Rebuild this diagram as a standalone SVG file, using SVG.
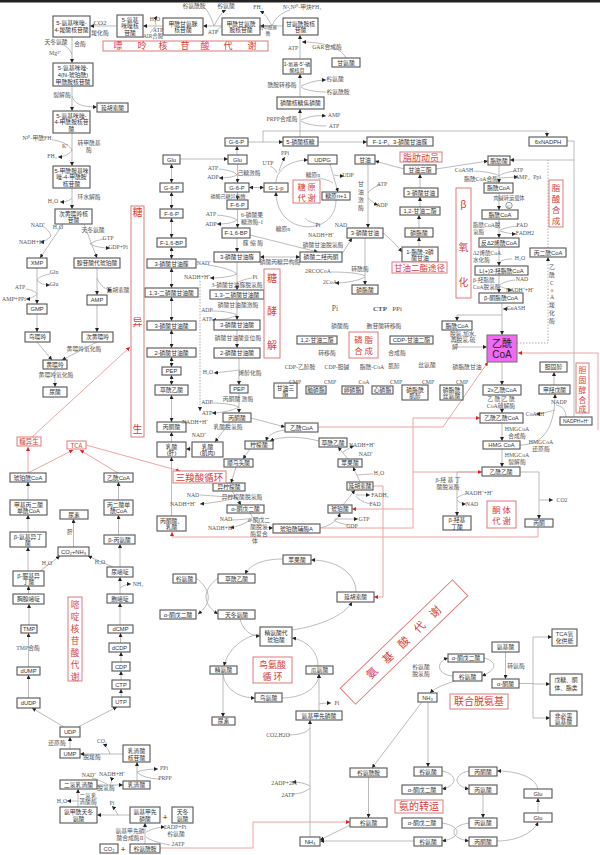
<svg xmlns="http://www.w3.org/2000/svg" width="600" height="855" viewBox="0 0 600 855">
<style>
.b{fill:#fff;stroke:#555;stroke-width:1.1}
.t{font-family:"Liberation Sans","Noto Sans CJK SC",sans-serif;font-size:5.8px;fill:#333;text-anchor:middle}
.l{font-family:"Liberation Serif","Noto Sans CJK SC",serif;font-size:5.8px;fill:#555;text-anchor:middle}
.ls{font-family:"Liberation Serif","Noto Sans CJK SC",serif;font-size:5.6px;fill:#555;text-anchor:start}
.r{fill:#fff;stroke:#e07a7a;stroke-width:1}
.rt{font-family:"Noto Sans CJK SC",sans-serif;font-size:10px;fill:#d83c3c;text-anchor:middle}
.c{fill:none;stroke:#aaa;stroke-width:0.8;marker-end:url(#a)}
.cb{fill:none;stroke:#aaa;stroke-width:0.8;marker-end:url(#a);marker-start:url(#as)}
.n{fill:none;stroke:#aaa;stroke-width:0.8}
.d{fill:none;stroke:#999;stroke-width:0.8;stroke-dasharray:1.5,1.5;marker-end:url(#a)}
.dn{fill:none;stroke:#999;stroke-width:0.8;stroke-dasharray:1.5,1.5}
.rc{fill:none;stroke:#ec9a9a;stroke-width:0.9;marker-end:url(#ra)}
</style>
<defs>
<marker id="a" viewBox="0 0 6 6" refX="6" refY="3" markerWidth="4" markerHeight="4" markerUnits="userSpaceOnUse" orient="auto"><path d="M0,0L6,3L0,6z" fill="#222"/></marker>
<marker id="as" viewBox="0 0 6 6" refX="0" refY="3" markerWidth="4" markerHeight="4" markerUnits="userSpaceOnUse" orient="auto"><path d="M6,0L0,3L6,6z" fill="#222"/></marker>
<marker id="ra" viewBox="0 0 6 6" refX="6" refY="3" markerWidth="4" markerHeight="4" markerUnits="userSpaceOnUse" orient="auto"><path d="M0,0L6,3L0,6z" fill="#e02020"/></marker>
</defs>
<rect width="600" height="855" fill="#fff"/>
<rect width="600" height="2.5" fill="#222"/>

<g id="connectors">
<path class="c" d="M117,26H90"/><path class="c" d="M163,26H143"/><path class="c" d="M222,26H203"/><path class="c" d="M283,26H260"/>
<path class="n" d="M150,33C152,30 154,28 156,26"/><path class="c" d="M156,25C155,22 155,19 157,16"/>
<path class="n" d="M215,33C217,30 219,28 221,27"/><path class="n" d="M205,8C210,14 212,20 214,26"/><path class="c" d="M214,26C218,18 222,12 226,10"/>
<path class="n" d="M290,10C280,13 274,20 272,26"/><path class="c" d="M272,26C268,18 264,13 260,11"/>
<path class="c" d="M300,59V35"/><path class="c" d="M346,58C340,46 320,42 302,42"/>
<path class="c" d="M300,97V74"/><path class="n" d="M326,92C315,92 305,90 301,87"/><path class="c" d="M301,86C310,82 318,80 326,80"/>
<path class="c" d="M300,137V109"/><path class="n" d="M326,126C315,126 305,124 301,121"/><path class="c" d="M301,120C310,116 318,115 326,116"/>
<path class="c" d="M248,142H283"/><path class="c" d="M318,142H367"/><path class="c" d="M263,142V131H547V137"/>
<path class="c" d="M237,155V146"/><path class="c" d="M180,159H228"/>
<path class="c" d="M72,37V63"/><path class="c" d="M72,86V111"/><path class="c" d="M72,133V166"/><path class="c" d="M72,188V209"/>
<path class="n" d="M62,44C68,47 71,51 72,55"/><path class="c" d="M72,96C74,104 82,107 97,107"/>
<path class="n" d="M54,140C64,142 70,146 72,150"/><path class="c" d="M72,150C70,154 64,157 58,157"/>
<path class="c" d="M72,198C70,201 64,202 60,202"/>
<path class="c" d="M63,224L40,258"/><path class="c" d="M84,224L97,258"/>
<path class="n" d="M42,226C48,229 50,233 51,236"/><path class="c" d="M51,236C48,240 43,242 40,242"/>
<path class="n" d="M104,239C98,240 92,242 90,244"/><path class="c" d="M90,244C95,247 103,248 110,248"/>
<path class="c" d="M37,268V304"/><path class="n" d="M50,274C43,275 38,278 37,280"/><path class="c" d="M37,280C40,284 45,285 50,285"/>
<path class="n" d="M26,289C32,290 36,292 37,294"/><path class="c" d="M37,294C34,297 30,299 26,299"/>
<path class="c" d="M97,268V295"/><path class="c" d="M97,278C100,286 106,290 112,290"/>
<path class="c" d="M37,314V332"/><path class="c" d="M97,305V332"/><path class="c" d="M37,342L52,360"/><path class="c" d="M97,342L62,360"/><path class="c" d="M55,369V387"/>
<path class="cb" d="M171.5,183V164"/><path class="cb" d="M171.5,209V192"/><path class="cb" d="M171.5,238V218"/><path class="cb" d="M171.5,259V247"/><path class="cb" d="M171.5,288V268"/><path class="cb" d="M171.5,321V297"/><path class="cb" d="M171.5,348V330"/><path class="cb" d="M171.5,367V357"/><path class="cb" d="M171.5,385V375"/><path class="cb" d="M171.5,422V395"/>
<path class="c" d="M171.5,442V432"/><path class="c" d="M171.5,516V457"/><path class="c" d="M192,449H186"/>
<path class="c" d="M237.5,164V183"/><path class="n" d="M219,169C229,170 235,172 237,175"/><path class="c" d="M237,175C233,177 226,178 219,178"/>
<path class="cb" d="M249,187.5H264"/><path class="c" d="M237.5,192V200"/><path class="c" d="M237.5,209V228"/>
<path class="n" d="M217,215C228,216 235,218 237,220"/><path class="c" d="M237,220C233,223 226,224 217,224"/>
<path class="c" d="M237,238V252"/><path class="c" d="M250,235L318,252"/><path class="cb" d="M260,257H300"/><path class="c" d="M342,254L352,238"/>
<path class="c" d="M368,164V228"/><path class="n" d="M380,185C374,187 370,190 368,193"/><path class="c" d="M368,198C371,201 375,204 378,205"/>
<path class="c" d="M365,238V285"/><path class="n" d="M331,272C345,272 360,273 365,276"/><path class="c" d="M365,277C358,281 345,283 335,283"/>
<path class="c" d="M383,233C392,240 397,246 402,252"/>
<path class="c" d="M237,262V290"/><path class="n" d="M208,265C222,267 232,270 237,274"/><path class="c" d="M237,274C230,277 220,278 210,278"/><path class="n" d="M252,278C245,279 240,281 237,283"/>
<path class="c" d="M237,299V320"/><path class="n" d="M212,311C225,311 233,313 237,315"/><path class="c" d="M237,315C232,318 222,320 212,320"/>
<path class="c" d="M237,330V348"/><path class="c" d="M239,358V385"/><path class="c" d="M239,370C232,371 222,372 214,373"/>
<path class="c" d="M239,393V413"/><path class="n" d="M212,403C225,403 235,405 239,407"/><path class="c" d="M239,407C234,410 222,413 212,413"/>
<path class="c" d="M230,422L215,442"/><path class="c" d="M251,418L285,427"/><path class="d" d="M200,281V411"/>
<path class="c" d="M276,183C276,170 290,160 308,160"/><path class="n" d="M270,166C274,168 276,170 277,173"/><path class="c" d="M279,171C281,165 283,160 285,157"/>
<path class="c" d="M330,164L338,192"/><path class="n" d="M318,178C325,179 330,181 333,183"/><path class="c" d="M334,175C338,176 341,176 344,176"/>
<path class="c" d="M336,200C336,237 276,237 276,192"/><path class="n" d="M318,224C310,222 306,220 305,218"/>
<path class="c" d="M404,169L375,161"/><path class="c" d="M436,169L488,161"/><path class="c" d="M420,188V174"/><path class="c" d="M420,207V197"/><path class="c" d="M419,228V215"/><path class="c" d="M419,247V237"/>
<path class="c" d="M499,165V183"/><path class="n" d="M474,171C490,172 497,174 499,176"/><path class="n" d="M515,171C507,172 501,174 499,176"/><path class="c" d="M499,178C506,178 512,177 518,177"/>
<path class="c" d="M499,193V210"/><path class="c" d="M499,219V238"/><path class="n" d="M518,226C508,227 502,229 500,230"/><path class="c" d="M500,231C506,233 512,234 516,234"/>
<path class="c" d="M499,247V266"/><path class="n" d="M512,259C506,259 502,260 500,262"/>
<path class="c" d="M499,275V293"/><path class="n" d="M515,280C507,281 502,283 500,285"/><path class="c" d="M500,286C505,289 510,290 512,290"/>
<path class="c" d="M502,303V335"/><path class="c" d="M513,309H503"/><path class="c" d="M502,315H457V321"/><path class="c" d="M457,330V347H487"/>
<path class="d" d="M517,343H548V257"/><path class="dn" d="M548,248V160"/><path class="n" d="M567,141H574V417"/><path class="c" d="M574,160H510"/>
<path class="c" d="M502,362V385"/><path class="c" d="M502,395V413"/><path class="c" d="M502,423V441"/><path class="c" d="M502,449V467"/>
<path class="c" d="M520,445C545,445 555,425 555,394"/><path class="n" d="M566,417C566,410 562,406 556,405"/><path class="c" d="M555,410C548,412 540,414 536,414"/>
<path class="c" d="M554,385V372"/><path class="c" d="M482,472H457V516"/><path class="n" d="M468,493C464,494 459,496 457,498"/><path class="c" d="M457,500C460,503 463,504 466,504"/>
<path class="c" d="M520,472H539V519"/><path class="c" d="M539,500H553"/>
<path class="c" d="M285,430C275,431 268,435 266,441"/><path class="c" d="M319,441C300,436 280,436 270,441"/>
<path class="c" d="M250,449L243,459"/><path class="c" d="M236,467L231,483"/><path class="c" d="M232,491L241,505"/>
<path class="n" d="M200,495C215,496 226,497 235,497"/><path class="c" d="M235,498C225,501 212,503 200,504"/>
<path class="c" d="M250,513C255,522 263,528 273,528"/><path class="n" d="M231,520C238,520 248,519 252,518"/><path class="c" d="M252,519C245,524 235,527 230,528"/>
<path class="c" d="M320,528C330,526 338,520 340,513"/><path class="n" d="M350,525C342,524 336,522 334,520"/><path class="c" d="M334,519C340,519 350,519 358,519"/>
<path class="c" d="M343,505L355,490"/><path class="n" d="M370,504C362,502 357,498 356,496"/><path class="c" d="M356,495C360,495 366,495 370,495"/>
<path class="c" d="M360,482L353,467"/><path class="n" d="M373,474C366,474 360,475 357,475"/>
<path class="c" d="M348,459L338,447"/><path class="c" d="M343,452C348,449 351,447 354,446"/>
<path class="rc" d="M28,473V447"/><path class="rc" d="M28,473L73,450"/><path class="rc" d="M118,473L80,450"/><path class="rc" d="M32,437L130,347"/><path class="rc" d="M86,445L180,471"/>
<path class="rc" d="M538,527V537H172V532"/><path class="rc" d="M318,427H443L488,362"/>
<path class="rc" d="M320,528H413V418H480"/><path class="rc" d="M413,472H482"/><path class="rc" d="M413,509H352"/>
<path class="rc" d="M598,430V353H518"/><path class="rc" d="M373,486H383V597H374"/><path class="rc" d="M160,848H253V822H350"/>
<path class="c" d="M145,844V823"/><path class="n" d="M170,845C158,843 150,840 146,837"/><path class="c" d="M146,832C152,829 158,827 165,827"/>
<path class="c" d="M130,815H97"/><path class="c" d="M118,815C116,811 114,808 112,806"/>
<path class="c" d="M78,807V789"/><path class="c" d="M78,801C74,801 70,801 67,801"/><path class="c" d="M97,785H123"/>
<path class="n" d="M92,778C100,780 105,783 108,785"/><path class="c" d="M110,785C112,781 112,779 110,777"/>
<path class="c" d="M137,781V762"/><path class="n" d="M160,779C150,779 140,776 137,772"/><path class="c" d="M137,772C142,770 150,769 158,769"/>
<path class="c" d="M123,754H80"/><path class="c" d="M110,754C108,748 105,745 103,744"/>
<path class="c" d="M70,749V737"/><path class="c" d="M64,727L32,708"/><path class="c" d="M78,727L117,707"/>
<path class="c" d="M28.5,698V675"/><path class="c" d="M28.5,667V633"/>
<path class="c" d="M121,697V689"/><path class="c" d="M121,680V671"/><path class="c" d="M121,662V652"/><path class="c" d="M120.5,643V633"/>
<path class="c" d="M29,625V604"/><path class="c" d="M120,625V603"/><path class="c" d="M120,594V577"/><path class="c" d="M120,588C124,585 128,584 131,584"/>
<path class="c" d="M28.5,594V586"/><path class="c" d="M28,571V547"/><path class="c" d="M40,571L60,556"/><path class="c" d="M113,567L88,556"/><path class="c" d="M120,567V544"/>
<path class="c" d="M73.5,547V519"/><path class="c" d="M28,532V515"/><path class="c" d="M28,500V482"/><path class="c" d="M118.5,535V515"/><path class="c" d="M118.5,500V482"/>
<path class="c" d="M196,578C212,590 212,604 198,614"/><path class="c" d="M218,578C202,590 202,604 218,614"/>
<path class="c" d="M356,592C356,572 335,560 311,560"/><path class="c" d="M283,559C262,559 250,565 245,574"/>
<path class="c" d="M240,619C243,630 250,636 260,636"/><path class="c" d="M292,630C320,626 345,615 352,602"/>
<path class="c" d="M318,666C318,650 305,640 292,638"/><path class="c" d="M260,634C245,636 228,648 224,666"/>
<path class="c" d="M223,674C225,690 240,698 255,698"/><path class="c" d="M282,698C300,698 318,690 319,674"/>
<path class="c" d="M223,674V717"/><path class="c" d="M319,711V674"/><path class="c" d="M319,704C323,703 327,703 331,703"/>
<path class="c" d="M310,837V720"/><path class="n" d="M288,735C300,735 308,732 310,728"/>
<path class="n" d="M292,794C302,794 308,790 310,788"/><path class="c" d="M310,786C305,783 298,782 292,782"/>
<path class="c" d="M350,825L320,840"/><path class="c" d="M414,841H320"/><path class="c" d="M368.5,777V818"/>
<path class="c" d="M422,702L372,768"/><path class="c" d="M428,702V767"/>
<path class="c" d="M505.5,652V679"/><path class="c" d="M484,658C495,661 500,668 482,676"/><path class="c" d="M453,676C437,675 435,662 448,658"/><path class="c" d="M455,681C442,685 434,689 430,693"/>
<path class="n" d="M519,683.5H533"/><path class="n" d="M533,637V718"/><path class="c" d="M533,637H552"/><path class="c" d="M533,684H550"/><path class="c" d="M533,718H550"/>
<path class="c" d="M442,771C458,774 458,786 442,789"/><path class="c" d="M469,771C453,774 453,786 469,789"/><path class="c" d="M483,794V818"/>
<path class="c" d="M442,823C462,826 462,838 442,841"/><path class="c" d="M469,823C449,826 449,838 469,841"/>
<path class="c" d="M497,841C518,841 534,832 538,822"/><path class="c" d="M538,813V798"/><path class="c" d="M538,789C535,776 515,771 497,771"/>
</g>

<g id="nodes">
<g id="p1"><rect class="b" x="53" y="16" width="37" height="21"/><text class="t" x="71.5" y="24.5">5-氨基咪唑-<tspan x="71.5" dy="7">4-羧酸核苷酸</tspan></text></g>
<g id="p2"><rect class="b" x="117" y="15" width="26" height="22"/><text class="t" x="130" y="21.5">5-氨基<tspan x="130" dy="6.5">咪唑核</tspan><tspan x="130" dy="6.5">苷酸</tspan></text></g>
<g id="p3"><rect class="b" x="163" y="18" width="40" height="17"/><text class="t" x="183" y="25.5">甲酰甘氨脒<tspan x="183" dy="6.5">核苷酸</tspan></text></g>
<g id="p4"><rect class="b" x="222" y="18" width="38" height="17"/><text class="t" x="241" y="25.5">甲酰甘氨酰<tspan x="241" dy="6.5">胺核苷酸</tspan></text></g>
<g id="p5"><rect class="b" x="283" y="18" width="35" height="17"/><text class="t" x="300.5" y="25.5">甘氨酰胺核<tspan x="300.5" dy="6.5">苷酸</tspan></text></g>
<g id="p6"><rect class="b" x="283" y="59" width="28" height="15"/><text class="t" x="297" y="65.5" style="font-size:5px">1-氨基-5'-磷<tspan x="297" dy="6.5">酸核苷</tspan></text></g>
<g id="p7"><rect class="b" x="277" y="97" width="47" height="12"/><text class="t" x="300.5" y="105.2">磷酸核糖焦磷酸</text></g>
<g id="p8"><rect class="b" x="283" y="137" width="35" height="9"/><text class="t" x="300.5" y="143.7">5-磷酸核糖</text></g>
<g id="g0"><rect class="b" x="225" y="138" width="23" height="8"/><text class="t" x="236.5" y="144.2">G-6-P</text></g>
<g id="gly"><rect class="b" x="332" y="58" width="28" height="9"/><text class="t" x="346" y="64.7">甘氨酸</text></g>
<g id="f1p"><rect class="b" x="367" y="137" width="66" height="9"/><text class="t" x="400" y="143.7">F-1-P、3-磷酸甘油醛</text></g>
<g id="nadph"><rect class="b" x="529" y="137" width="38" height="9"/><text class="t" x="548" y="143.7">6xNADPH</text></g>
<g id="p10"><rect class="b" x="53" y="63" width="40" height="23"/><text class="t" x="73" y="69.5">5-氨基咪唑-<tspan x="73" dy="7">4(N-琥珀酰)</tspan><tspan x="73" dy="7">甲酰胺核苷酸</tspan></text></g>
<g id="p11"><rect class="b" x="97" y="103" width="31" height="9"/><text class="t" x="112.5" y="109.7">延胡索酸</text></g>
<g id="p12"><rect class="b" x="53" y="111" width="37" height="22"/><text class="t" x="71.5" y="117.5">5-氨基咪唑-<tspan x="71.5" dy="6.5">4-甲酰胺核苷</tspan><tspan x="71.5" dy="6.5">酸</tspan></text></g>
<g id="p13"><rect class="b" x="53" y="166" width="37" height="22"/><text class="t" x="71.5" y="172.5">5-甲酰胺基咪<tspan x="71.5" dy="6.5">唑-4-甲酰胺</tspan><tspan x="71.5" dy="6.5">核苷酸</tspan></text></g>
<g id="p14"><rect class="b" x="55" y="209" width="37" height="15"/><text class="t" x="73.5" y="215.5">次黄嘌呤核<tspan x="73.5" dy="6.5">苷酸</tspan></text></g>
<g id="xmp"><rect class="b" x="27" y="258" width="20" height="10"/><text class="t" x="37" y="265">XMP</text></g>
<g id="asa"><rect class="b" x="74" y="258" width="46" height="10"/><text class="t" x="97" y="265">腺苷酸代琥珀酸</text></g>
<g id="gmp"><rect class="b" x="27" y="304" width="20" height="10"/><text class="t" x="37" y="311">GMP</text></g>
<g id="amp"><rect class="b" x="87" y="295" width="20" height="10"/><text class="t" x="97" y="302">AMP</text></g>
<g id="gua"><rect class="b" x="25" y="332" width="25" height="10"/><text class="t" x="37.5" y="339">鸟嘌呤</text></g>
<g id="hyp"><rect class="b" x="82" y="332" width="31" height="10"/><text class="t" x="97.5" y="339">次黄嘌呤</text></g>
<g id="xan"><rect class="b" x="43" y="360" width="24" height="9"/><text class="t" x="55" y="366.7">黄嘌呤</text></g>
<g id="ua"><rect class="b" x="43" y="387" width="24" height="10"/><text class="t" x="55" y="394">尿酸</text></g>

<g id="gn1"><rect class="b" x="163" y="155" width="17" height="9"/><text class="t" x="171.5" y="161.7">Glu</text></g>
<g id="gn2"><rect class="b" x="160" y="183" width="23" height="9"/><text class="t" x="171.5" y="189.7">G-6-P</text></g>
<g id="gn3"><rect class="b" x="160" y="209" width="23" height="9"/><text class="t" x="171.5" y="215.7">F-6-P</text></g>
<g id="gn4"><rect class="b" x="157" y="238" width="29" height="9"/><text class="t" x="171.5" y="244.7">F-1,6-BP</text></g>
<g id="gn5"><rect class="b" x="147" y="259" width="49" height="9"/><text class="t" x="171.5" y="265.7">3-磷酸甘油醛</text></g>
<g id="gn6"><rect class="b" x="145" y="288" width="53" height="9"/><text class="t" x="171.5" y="294.7">1,3-二磷酸甘油酸</text></g>
<g id="gn7"><rect class="b" x="147" y="321" width="49" height="9"/><text class="t" x="171.5" y="327.7">3-磷酸甘油酸</text></g>
<g id="gn8"><rect class="b" x="147" y="348" width="49" height="9"/><text class="t" x="171.5" y="354.7">2-磷酸甘油酸</text></g>
<g id="gn9"><rect class="b" x="162" y="367" width="19" height="8"/><text class="t" x="171.5" y="373.2">PEP</text></g>
<g id="gn10"><rect class="b" x="155" y="385" width="33" height="10"/><text class="t" x="171.5" y="392">草酰乙酸</text></g>
<g id="gn11"><rect class="b" x="157" y="422" width="29" height="10"/><text class="t" x="171.5" y="429">丙酮酸</text></g>
<g id="gn12"><rect class="b" x="157" y="442" width="29" height="15"/><text class="t" x="171.5" y="448.5">乳酸<tspan x="171.5" dy="6.5">(肝)</tspan></text></g>
<g id="gn13"><rect class="b" x="192" y="442" width="31" height="15"/><text class="t" x="207.5" y="448.5">乳酸<tspan x="207.5" dy="6.5">(肌肉)</tspan></text></g>
<g id="gn14"><rect class="b" x="157" y="516" width="29" height="15"/><text class="t" x="171.5" y="522.5">丙酮酸、<tspan x="171.5" dy="6.5">乳酸</tspan></text></g>

<g id="gl1"><rect class="b" x="228" y="155" width="19" height="9"/><text class="t" x="237.5" y="161.7">Glu</text></g>
<g id="gl2"><rect class="b" x="225" y="183" width="24" height="9"/><text class="t" x="237" y="189.7">G-6-P</text></g>
<g id="gl3"><rect class="b" x="227" y="200" width="21" height="9"/><text class="t" x="237.5" y="206.7">F-6-P</text></g>
<g id="gl4"><rect class="b" x="222" y="228" width="28" height="10"/><text class="t" x="236" y="235">F-1,6-BP</text></g>
<g id="gl5"><rect class="b" x="214" y="252" width="46" height="10"/><text class="t" x="237" y="259">3-磷酸甘油醛</text></g>
<g id="gl6"><rect class="b" x="210" y="290" width="54" height="9"/><text class="t" x="237" y="296.7">1,3-二磷酸甘油酸</text></g>
<g id="gl7"><rect class="b" x="214" y="320" width="46" height="10"/><text class="t" x="237" y="327">3-磷酸甘油酸</text></g>
<g id="gl8"><rect class="b" x="214" y="348" width="46" height="10"/><text class="t" x="237" y="355">2-磷酸甘油酸</text></g>
<g id="gl9"><rect class="b" x="230" y="385" width="18" height="8"/><text class="t" x="239" y="391.2">PEP</text></g>
<g id="gl10"><rect class="b" x="223" y="413" width="28" height="9"/><text class="t" x="237" y="419.7">丙酮酸</text></g>
<g id="g1p"><rect class="b" x="264" y="183" width="24" height="9"/><text class="t" x="276" y="189.7">G-1-p</text></g>
<g id="udpg"><rect class="b" x="308" y="155" width="29" height="9"/><text class="t" x="322.5" y="161.7">UDPG</text></g>
<g id="gyn"><rect class="b" x="322" y="192" width="28" height="8"/><text class="t" x="336" y="198.2">糖原n+1</text></g>
<g id="gol"><rect class="b" x="355" y="155" width="20" height="9"/><text class="t" x="365" y="161.7">甘油</text></g>
<g id="dhap"><rect class="b" x="300" y="252" width="42" height="10"/><text class="t" x="321" y="259">磷酸二羟丙酮</text></g>
<g id="g3p"><rect class="b" x="347" y="228" width="36" height="10"/><text class="t" x="365" y="235">3-磷酸甘油</text></g>
<g id="pa"><rect class="b" x="352" y="285" width="26" height="9"/><text class="t" x="365" y="291.7">磷脂酸</text></g>
<g id="dag"><rect class="b" x="297" y="336" width="40" height="8"/><text class="t" x="317" y="342.2">1,2-甘油二酯</text></g>
<g id="cdpdag"><rect class="b" x="390" y="336" width="43" height="8"/><text class="t" x="411.5" y="342.2">CDP-甘油二酯</text></g>
<g id="tg2"><rect class="b" x="274" y="383" width="23" height="15"/><text class="t" x="285.5" y="389.5">甘油三<tspan x="285.5" dy="6.5">酯</tspan></text></g>
<g id="pe"><rect class="b" x="306" y="386" width="20" height="8"/><text class="t" x="316" y="392.2">脑磷脂</text></g>
<g id="pc"><rect class="b" x="342" y="386" width="21" height="8"/><text class="t" x="352.5" y="392.2">卵磷脂</text></g>
<g id="cl"><rect class="b" x="372" y="386" width="21" height="8"/><text class="t" x="382.5" y="392.2">心磷脂</text></g>
<g id="pi"><rect class="b" x="402" y="385" width="26" height="15"/><text class="t" x="415" y="391.5">磷脂酰<tspan x="415" dy="6.5">肌醇</tspan></text></g>
<g id="ps"><rect class="b" x="440" y="385" width="23" height="15"/><text class="t" x="451.5" y="391.5">磷脂酰<tspan x="451.5" dy="6.5">丝氨酸</tspan></text></g>

<g id="fa"><rect class="b" x="488" y="156" width="22" height="9"/><text class="t" x="499" y="162.7">脂肪酸</text></g>
<g id="tg"><rect class="b" x="404" y="165" width="32" height="9"/><text class="t" x="420" y="171.7">甘油三酯</text></g>
<g id="acoa1"><rect class="b" x="484" y="183" width="29" height="10"/><text class="t" x="498.5" y="190">脂酰CoA</text></g>
<g id="g3p2"><rect class="b" x="404" y="188" width="34" height="9"/><text class="t" x="421" y="194.7">3-磷酸甘油</text></g>
<g id="dag2"><rect class="b" x="400" y="207" width="40" height="8"/><text class="t" x="420" y="213.2">1,2-甘油二酯</text></g>
<g id="acoa2"><rect class="b" x="482" y="210" width="36" height="9"/><text class="t" x="500" y="216.7">脂酰CoA</text></g>
<g id="pa2"><rect class="b" x="405" y="228" width="28" height="9"/><text class="t" x="419" y="234.7">磷脂酸</text></g>
<g id="enoyl"><rect class="b" x="479" y="238" width="40" height="9"/><text class="t" x="499" y="244.7">反Δ2烯酰CoA</text></g>
<g id="lpa"><rect class="b" x="402" y="247" width="36" height="15"/><text class="t" x="420" y="253.5">1-脂酰-3磷<tspan x="420" dy="6.5">酸甘油</tspan></text></g>
<g id="mal"><rect class="b" x="530" y="248" width="36" height="9"/><text class="t" x="548" y="254.7">丙二酰CoA</text></g>
<g id="hacoa"><rect class="b" x="475" y="266" width="53" height="9"/><text class="t" x="501.5" y="272.7">L(+)3-羟脂酰CoA</text></g>
<g id="kacoa"><rect class="b" x="479" y="293" width="44" height="10"/><text class="t" x="501" y="300">β-酮脂酰CoA</text></g>
<g id="acoa3"><rect class="b" x="442" y="321" width="30" height="9"/><text class="t" x="457" y="327.7">脂酰CoA</text></g>
<g id="accoa"><rect x="487" y="335" width="30" height="27" fill="#f26af2" stroke="#777" stroke-width="1.1"/><text class="t" x="502" y="347" style="font-size:10px;fill:#222">乙酰<tspan x="502" dy="11">CoA</tspan></text></g>
<g id="chol"><rect class="b" x="540" y="362" width="27" height="10"/><text class="t" x="553.5" y="369">胆固醇</text></g>
<g id="acx2"><rect class="b" x="483" y="385" width="38" height="10"/><text class="t" x="502" y="392">2x乙酰CoA</text></g>
<g id="mva"><rect class="b" x="539" y="385" width="31" height="9"/><text class="t" x="554.5" y="391.7">甲羟戊酸</text></g>
<g id="aacoa"><rect class="b" x="480" y="413" width="43" height="10"/><text class="t" x="501.5" y="420">乙酰乙酰CoA</text></g>
<g id="nadph2"><rect class="b" x="560" y="417" width="32" height="8"/><text class="t" x="576" y="423" style="font-size:5px">NADPH+H⁺</text></g>
<g id="hmg"><rect class="b" x="483" y="441" width="37" height="8"/><text class="t" x="501.5" y="447.2">HMG CoA</text></g>
<g id="aca"><rect class="b" x="482" y="467" width="38" height="9"/><text class="t" x="501" y="473.7">乙酰乙酸</text></g>
<g id="bhb"><rect class="b" x="443" y="516" width="28" height="14"/><text class="t" x="457" y="522">β-羟基<tspan x="457" dy="6.5">丁酸</tspan></text></g>
<g id="acetone"><rect class="b" x="525" y="519" width="28" height="8"/><text class="t" x="539" y="525.2">丙酮</text></g>

<g id="t_accoa"><rect class="b" x="285" y="423" width="33" height="9"/><text class="t" x="301.5" y="429.7">乙酰CoA</text></g>
<g id="oaa"><rect class="b" x="319" y="438" width="28" height="9"/><text class="t" x="333" y="444.7">草酰乙酸</text></g>
<g id="cit"><rect class="b" x="245" y="441" width="28" height="8"/><text class="t" x="259" y="447.2">柠檬酸</text></g>
<g id="cis"><rect class="b" x="224" y="459" width="29" height="8"/><text class="t" x="238.5" y="465.2">顺乌头酸</text></g>
<g id="malate"><rect class="b" x="338" y="459" width="24" height="8"/><text class="t" x="350" y="465.2">苹果酸</text></g>
<g id="icit"><rect class="b" x="213" y="483" width="32" height="8"/><text class="t" x="229" y="489.2">异柠檬酸</text></g>
<g id="fum"><rect class="b" x="347" y="482" width="26" height="8"/><text class="t" x="360" y="488.2">延胡索酸</text></g>
<g id="akg"><rect class="b" x="227" y="505" width="37" height="8"/><text class="t" x="245.5" y="511.2">α-酮戊二酸</text></g>
<g id="succ"><rect class="b" x="328" y="505" width="24" height="8"/><text class="t" x="340" y="511.2">琥珀酸</text></g>
<g id="succoa"><rect class="b" x="273" y="524" width="47" height="9"/><text class="t" x="296.5" y="530.7">琥珀酰辅酶A</text></g>

<g id="sc"><rect class="b" x="10" y="473" width="36" height="9"/><text class="t" x="28" y="479.7">琥珀酰CoA</text></g>
<g id="ac"><rect class="b" x="104" y="473" width="29" height="9"/><text class="t" x="118.5" y="479.7">乙酰CoA</text></g>
<g id="mmcoa"><rect class="b" x="10" y="500" width="37" height="15"/><text class="t" x="28.5" y="506.5">甲基丙二酸<tspan x="28.5" dy="6.5">单酰CoA</tspan></text></g>
<g id="mcoa"><rect class="b" x="104" y="500" width="29" height="15"/><text class="t" x="118.5" y="506.5">丙二酸单<tspan x="118.5" dy="6.5">酰CoA</tspan></text></g>
<g id="urea1"><rect class="b" x="60" y="510" width="28" height="9"/><text class="t" x="74" y="516.7">尿素</text></g>
<g id="baib"><rect class="b" x="10" y="532" width="36" height="15"/><text class="t" x="28" y="538.5">β-氨基异丁<tspan x="28" dy="6.5">酸</tspan></text></g>
<g id="bala"><rect class="b" x="104" y="535" width="31" height="9"/><text class="t" x="119.5" y="541.7">β-丙氨酸</text></g>
<g id="co2nh3"><rect class="b" x="58" y="547" width="31" height="9"/><text class="t" x="73.5" y="553.7">CO₂+NH₃</text></g>
<g id="bureido"><rect class="b" x="13" y="571" width="31" height="15"/><text class="t" x="28.5" y="577.5">β-脲基异<tspan x="28.5" dy="6.5">丁酸</tspan></text></g>
<g id="ura"><rect class="b" x="107" y="567" width="26" height="10"/><text class="t" x="120" y="574">尿嘧啶</text></g>
<g id="thy"><rect class="b" x="13" y="594" width="31" height="10"/><text class="t" x="28.5" y="601">胸腺嘧啶</text></g>
<g id="cyt"><rect class="b" x="107" y="594" width="26" height="9"/><text class="t" x="120" y="600.7">胞嘧啶</text></g>
<g id="tmp"><rect class="b" x="21" y="625" width="16" height="8"/><text class="t" x="29" y="631.2">TMP</text></g>
<g id="dcmp"><rect class="b" x="108" y="625" width="25" height="8"/><text class="t" x="120.5" y="631.2">dCMP</text></g>
<g id="dcdp"><rect class="b" x="109" y="643" width="21" height="9"/><text class="t" x="119.5" y="649.7">dCDP</text></g>
<g id="dump"><rect class="b" x="17" y="667" width="23" height="8"/><text class="t" x="28.5" y="673.2">dUMP</text></g>
<g id="cdp"><rect class="b" x="112" y="662" width="18" height="9"/><text class="t" x="121" y="668.7">CDP</text></g>
<g id="ctp"><rect class="b" x="112" y="680" width="18" height="9"/><text class="t" x="121" y="686.7">CTP</text></g>
<g id="dudp"><rect class="b" x="17" y="698" width="23" height="10"/><text class="t" x="28.5" y="705">dUDP</text></g>
<g id="utp"><rect class="b" x="112" y="697" width="18" height="10"/><text class="t" x="121" y="704">UTP</text></g>
<g id="udp"><rect class="b" x="60" y="727" width="20" height="10"/><text class="t" x="70" y="734">UDP</text></g>
<g id="ump"><rect class="b" x="60" y="749" width="20" height="9"/><text class="t" x="70" y="755.7">UMP</text></g>
<g id="omp"><rect class="b" x="123" y="745" width="27" height="17"/><text class="t" x="136.5" y="752.5">乳清酸<tspan x="136.5" dy="7">核苷酸</tspan></text></g>
<g id="dho"><rect class="b" x="60" y="780" width="37" height="9"/><text class="t" x="78.5" y="786.7">二氢乳清酸</text></g>
<g id="oro"><rect class="b" x="123" y="781" width="27" height="8"/><text class="t" x="136.5" y="787.2">乳清酸</text></g>
<g id="caasp"><rect class="b" x="60" y="807" width="37" height="16"/><text class="t" x="78.5" y="814">氨甲酰天冬<tspan x="78.5" dy="6.5">氨酸</tspan></text></g>
<g id="cp1"><rect class="b" x="130" y="807" width="30" height="16"/><text class="t" x="145" y="814">氨基甲先<tspan x="145" dy="6.5">磷酸</tspan></text></g>
<g id="asp1"><rect class="b" x="172" y="807" width="21" height="16"/><text class="t" x="182.5" y="814">天冬<tspan x="182.5" dy="6.5">氨酸</tspan></text></g>
<g id="co2b"><rect class="b" x="100" y="844" width="18" height="9"/><text class="t" x="109" y="850.7">CO₂</text></g>
<g id="gln1"><rect class="b" x="130" y="844" width="30" height="9"/><text class="t" x="145" y="850.7">谷氨酰胺</text></g>

<g id="glu2"><rect class="b" x="173" y="574" width="23" height="9"/><text class="t" x="184.5" y="580.7">谷氨酸</text></g>
<g id="akg2"><rect class="b" x="160" y="610" width="36" height="9"/><text class="t" x="178" y="616.7">α-酮戊二酸</text></g>
<g id="oaa2"><rect class="b" x="218" y="574" width="37" height="9"/><text class="t" x="236.5" y="580.7">草酰乙酸</text></g>
<g id="asp2"><rect class="b" x="218" y="610" width="37" height="9"/><text class="t" x="236.5" y="616.7">天冬氨酸</text></g>
<g id="mal2"><rect class="b" x="283" y="555" width="28" height="9"/><text class="t" x="297" y="561.7">苹果酸</text></g>
<g id="fum2"><rect class="b" x="337" y="592" width="37" height="10"/><text class="t" x="355.5" y="599">延胡索酸</text></g>
<g id="asa2"><rect class="b" x="260" y="627" width="32" height="19"/><text class="t" x="276" y="635">精氨酸代<tspan x="276" dy="7">琥珀酸</tspan></text></g>
<g id="arg"><rect class="b" x="210" y="666" width="27" height="8"/><text class="t" x="223.5" y="672.2">精氨酸</text></g>
<g id="cit2"><rect class="b" x="306" y="666" width="27" height="8"/><text class="t" x="319.5" y="672.2">瓜氨酸</text></g>
<g id="orn"><rect class="b" x="255" y="693" width="27" height="9"/><text class="t" x="268.5" y="699.7">鸟氨酸</text></g>
<g id="urea2"><rect class="b" x="212" y="717" width="23" height="8"/><text class="t" x="223.5" y="723.2">尿素</text></g>
<g id="cp2"><rect class="b" x="296" y="711" width="46" height="9"/><text class="t" x="319" y="717.7">氨基甲先磷酸</text></g>
<g id="gln2"><rect class="b" x="350" y="768" width="37" height="9"/><text class="t" x="368.5" y="774.7">谷氨酰胺</text></g>
<g id="glu3"><rect class="b" x="350" y="818" width="37" height="9"/><text class="t" x="368.5" y="824.7">谷氨酸</text></g>
<g id="nh3a"><rect class="b" x="300" y="837" width="20" height="9"/><text class="t" x="310" y="843.7">NH₃</text></g>

<g id="tca2"><rect class="b" x="552" y="629" width="25" height="17"/><text class="t" x="564.5" y="636">TCA氧<tspan x="564.5" dy="7">化供能</tspan></text></g>
<g id="aa"><rect class="b" x="492" y="642" width="27" height="10"/><text class="t" x="505.5" y="649">氨基酸</text></g>
<g id="akg3"><rect class="b" x="448" y="654" width="36" height="8"/><text class="t" x="466" y="660.2">α-酮戊二酸</text></g>
<g id="glu4"><rect class="b" x="453" y="672" width="29" height="9"/><text class="t" x="467.5" y="678.7">谷氨酸</text></g>
<g id="ka"><rect class="b" x="492" y="679" width="27" height="9"/><text class="t" x="505.5" y="685.7">α-酮酸</text></g>
<g id="ptl"><rect class="b" x="550" y="674" width="32" height="21"/><text class="t" x="566" y="682">戊糖、酮<tspan x="566" dy="8">体、脂类</tspan></text></g>
<g id="nh3b"><rect class="b" x="418" y="693" width="19" height="9"/><text class="t" x="427.5" y="699.7">NH₃</text></g>
<g id="neaa"><rect class="b" x="550" y="711" width="27" height="15"/><text class="t" x="563.5" y="717.5">非必需<tspan x="563.5" dy="6.5">氨基酸</tspan></text></g>

<g id="tr1"><rect class="b" x="414" y="767" width="28" height="9"/><text class="t" x="428" y="773.7">谷氨酸</text></g>
<g id="tr2"><rect class="b" x="469" y="767" width="28" height="9"/><text class="t" x="483" y="773.7">丙酮酸</text></g>
<g id="tr3"><rect class="b" x="402" y="785" width="40" height="9"/><text class="t" x="422" y="791.7">α-酮戊二酸</text></g>
<g id="tr4"><rect class="b" x="469" y="785" width="28" height="9"/><text class="t" x="483" y="791.7">丙氨酸</text></g>
<g id="tr5"><rect class="b" x="524" y="789" width="28" height="9"/><text class="t" x="538" y="795.7">Glu</text></g>
<g id="tr6"><rect class="b" x="524" y="813" width="28" height="9"/><text class="t" x="538" y="819.7">Glu</text></g>
<g id="tr7"><rect class="b" x="402" y="818" width="40" height="10"/><text class="t" x="422" y="825">α-酮戊二酸</text></g>
<g id="tr8"><rect class="b" x="469" y="818" width="28" height="10"/><text class="t" x="483" y="825">丙氨酸</text></g>
<g id="tr9"><rect class="b" x="414" y="837" width="28" height="9"/><text class="t" x="428" y="843.7">谷氨酸</text></g>
<g id="tr10"><rect class="b" x="469" y="837" width="28" height="9"/><text class="t" x="483" y="843.7">丙酮酸</text></g>
</g>

<g id="sections">
<g id="s_purine"><rect class="r" x="103" y="41" width="165" height="10"/><text class="rt" y="49.3" style="font-size:9px"><tspan x="118">嘌</tspan><tspan x="142">呤</tspan><tspan x="163">核</tspan><tspan x="185">苷</tspan><tspan x="205">酸</tspan><tspan x="228">代</tspan><tspan x="252">谢</tspan></text></g>
<g id="s_gng"><rect class="r" x="131" y="206" width="13" height="231"/><text class="rt" x="137.5"><tspan x="137.5" y="216">糖</tspan><tspan x="137.5" y="326">异</tspan><tspan x="137.5" y="433">生</tspan></text></g>
<g id="s_glycogen"><rect class="r" x="293" y="180" width="27" height="23"/><text class="rt" x="306.5" y="190" style="font-size:8.2px">糖 原<tspan x="306.5" dy="10.5">代 谢</tspan></text></g>
<g id="s_lipo"><rect class="r" x="400" y="152" width="42" height="10"/><text class="rt" x="421" y="160.5" style="font-size:9px">脂肪动员</text></g>
<g id="s_beta"><rect class="r" x="456" y="188" width="15" height="110"/><text class="rt" x="463.5"><tspan x="463.5" y="208">β</tspan><tspan x="463.5" y="251">氧</tspan><tspan x="463.5" y="286">化</tspan></text></g>
<g id="s_fas"><rect class="r" x="549" y="180" width="14" height="47"/><text class="rt" x="556" style="font-size:8.5px"><tspan x="556" y="191">脂</tspan><tspan x="556" y="202">酸</tspan><tspan x="556" y="213">合</tspan><tspan x="556" y="224">成</tspan></text></g>
<g id="s_glycolysis"><rect class="r" x="264" y="269" width="16" height="89"/><text class="rt" x="272"><tspan x="272" y="282">糖</tspan><tspan x="272" y="315">酵</tspan><tspan x="272" y="349">解</tspan></text></g>
<g id="s_dag"><rect class="r" x="392" y="262" width="55" height="11"/><text class="rt" x="419.5" y="270.5" style="font-size:8.5px">甘油二酯途径</text></g>
<g id="s_pl"><rect class="r" x="349" y="332" width="29" height="26"/><text class="rt" x="363.5" y="343" style="font-size:8.4px">磷 脂<tspan x="363.5" dy="11">合 成</tspan></text></g>
<g id="s_chol"><rect class="r" x="576" y="363" width="13" height="50"/><text class="rt" x="582.5" style="font-size:7.8px"><tspan x="582.5" y="372.5">胆</tspan><tspan x="582.5" y="382.5">固</tspan><tspan x="582.5" y="392.5">醇</tspan><tspan x="582.5" y="402.5">合</tspan><tspan x="582.5" y="412">成</tspan></text></g>
<g id="s_ketone"><rect class="r" x="487" y="501" width="29" height="27"/><text class="rt" x="501.5" y="513" style="font-size:8.4px">酮 体<tspan x="501.5" dy="11">代 谢</tspan></text></g>
<g id="s_tca"><rect class="r" x="173" y="471" width="53" height="12"/><text class="rt" x="199.5" y="480.5" style="font-size:9.5px">三羧酸循环</text></g>
<g id="s_gng2"><rect class="r" x="17" y="437" width="24" height="9"/><text class="rt" x="29" y="444.3" style="font-size:6.5px">糖异生</text></g>
<g id="s_tca2"><rect class="r" x="67" y="441" width="19" height="8"/><text class="rt" x="76.5" y="447.5" style="font-size:6.5px">TCA</text></g>
<g id="s_pyr"><rect class="r" x="68" y="597" width="14" height="84"/><text class="rt" x="75" style="font-size:8.6px"><tspan x="75" y="608">嘧</tspan><tspan x="75" y="620">啶</tspan><tspan x="75" y="632">核</tspan><tspan x="75" y="644">苷</tspan><tspan x="75" y="656">酸</tspan><tspan x="75" y="668">代</tspan><tspan x="75" y="680">谢</tspan></text></g>
<g id="s_urea"><rect class="r" x="253" y="657" width="39" height="26"/><text class="rt" x="272.5" y="667.5" style="font-size:9px">鸟氨酸<tspan x="272.5" dy="12">循 环</tspan></text></g>
<g id="s_aa" transform="translate(404,642) rotate(-44)"><rect class="r" x="-78" y="-11" width="156" height="22"/><text class="rt" x="5" y="4" style="font-size:11px;letter-spacing:11px">氨基酸代谢</text></g>
<g id="s_deam"><rect class="r" x="450" y="694" width="58" height="15"/><text class="rt" x="479" y="705">联合脱氨基</text></g>
<g id="s_trans"><rect class="r" x="395" y="800" width="48" height="13"/><text class="rt" x="419" y="810">氨的转运</text></g>
</g>

<g id="labels">
<text class="l" x="100" y="25" style="font-size:7px">CO2</text><text class="l" x="100" y="35">羧化酶</text>
<text class="l" x="155" y="21">H₂O</text><text class="l" x="158" y="31.5">ATP</text><text class="l" x="153" y="37.6" style="font-size:5.4px">AIR合酶</text>
<text class="l" x="194" y="8">谷氨酰胺</text><text class="l" x="226" y="8">谷氨酸</text><text class="l" x="213" y="34">ATP</text>
<text class="l" x="258" y="9">FH₄</text><text class="l" x="302" y="9">N⁵,N¹⁰-甲炔FH₄</text>
<text class="l" x="268" y="29" style="font-size:4.5px">转甲酰基</text><text class="l" x="268" y="35" style="font-size:4.5px">酶</text>
<text class="l" x="293" y="50">ATP</text><text class="l" x="327" y="49">GAR合成酶</text>
<text class="l" x="282" y="87">酰胺转移酶</text><text class="l" x="335" y="81">谷氨酸</text><text class="l" x="338" y="94">谷氨酰胺</text>
<text class="l" x="282" y="121">PRPP合成酶</text><text class="l" x="334" y="117">AMP</text><text class="l" x="334" y="128">ATP</text>
<text class="l" x="56" y="44">天冬氨酸</text><text class="l" x="80" y="46">合酶</text><text class="l" x="55" y="55">Mg²⁺</text>
<text class="l" x="62" y="97">裂解酶</text>
<text class="l" x="38" y="140">N¹⁰-甲酰FH₄</text><text class="l" x="65" y="148">K⁺</text><text class="l" x="89" y="145">转甲酰基</text><text class="l" x="89" y="152">酶</text><text class="l" x="52" y="158">FH₄</text>
<text class="l" x="53" y="203">H₂O</text><text class="l" x="89" y="199">环水解酶</text>
<text class="l" x="38" y="227">NAD⁺</text><text class="l" x="58" y="229">H₂O</text><text class="l" x="32" y="244">NADH+H⁺</text>
<text class="l" x="93" y="232">天冬氨酸</text><text class="l" x="108" y="240">GTP</text><text class="l" x="118" y="249">GDP+Pi</text>
<text class="l" x="54" y="274">Gln</text><text class="l" x="54" y="286">Glu</text><text class="l" x="118" y="292">延胡索酸</text>
<text class="l" x="20" y="289">ATP</text><text class="l" x="14" y="301">AMP+PPi</text>
<text class="l" x="84" y="351">黄嘌呤氧化酶</text><text class="l" x="56" y="377">黄嘌呤氧化酶</text>

<text class="l" x="268" y="165">UTP</text><text class="l" x="285" y="155">PPi</text>
<text class="l" x="213" y="170">ATP</text><text class="l" x="213" y="179">ADP</text><text class="l" x="249" y="175">己糖激酶</text>
<text class="l" x="228" y="197.5" style="font-size:5px">磷酸己糖异构酶</text>
<text class="l" x="313" y="177">糖原n</text><text class="l" x="348" y="177">UDP</text>
<text class="l" x="382" y="186">ATP</text><text class="l" x="382" y="207">ADP</text>
<text class="l" x="361"><tspan x="361" y="186">甘</tspan><tspan x="361" y="194">油</tspan><tspan x="361" y="202">激</tspan><tspan x="361" y="210">酶</tspan></text>
<text class="l" x="211" y="216">ATP</text><text class="l" x="252" y="217">6-磷酸果</text><text class="l" x="252" y="224">糖激酶-1</text><text class="l" x="211" y="226">ADP</text>
<text class="l" x="253" y="245">醛 缩 酶</text><text class="l" x="280" y="264">磷酸丙糖异构酶</text>
<text class="l" x="341" y="227">NAD</text><text class="l" x="321" y="237">NADH+H⁺</text><text class="l" x="323" y="247">磷酸甘油脱氢酶</text>
<text class="l" x="204" y="265">NAD⁺</text><text class="l" x="197" y="279">NADH+H⁺</text>
<text class="l" x="255" y="279">Pi</text><text class="l" x="237" y="287">3-磷酸甘油醛脱氢酶</text>
<text class="l" x="207" y="312">ADP</text><text class="l" x="238" y="307">磷酸甘油酸激酶</text><text class="l" x="207" y="321">ATP</text>
<text class="l" x="238" y="340">磷酸甘油酸变位酶</text>
<text class="l" x="208" y="374">H₂O</text><text class="l" x="250" y="375">烯醇化酶</text>
<text class="l" x="238" y="401">丙酮酸 激酶</text><text class="l" x="207" y="404">ADP</text><text class="l" x="207" y="415">ATP</text>
<text class="l" x="195" y="424">NADH+H⁺</text><text class="l" x="199" y="437">NAD⁺</text><text class="l" x="228" y="429">乳酸脱氢酶</text>
<text class="l" x="283" y="231">糖原n</text><text class="l" x="318" y="227">Pi</text>
<text class="l" x="318" y="273">2RCOCoA</text><text class="l" x="330" y="284">2CoA</text><text class="l" x="360" y="271">转酰酶</text>
<text class="l" x="335" y="311" style="font-size:7.5px">Pi</text><text class="l" x="380" y="311" style="font-size:7px;font-weight:bold">CTP</text><text class="l" x="397" y="311" style="font-size:7px">PPi</text>
<text class="l" x="340" y="328">磷酸酶</text><text class="l" x="384" y="328">胞苷酸转移酶</text>
<text class="l" x="327" y="355">转移酶</text><text class="l" x="397" y="355">合成酶</text>
<text class="l" x="300" y="369">CDP-乙醇胺</text><text class="l" x="337" y="369">CDP-胆碱</text><text class="l" x="372" y="369">脂酰-CoA</text><text class="l" x="394" y="368">肌醇</text><text class="l" x="427" y="367">丝氨酸</text><text class="l" x="467" y="369">磷脂酰甘油</text>
<text class="l" x="295" y="384">CMP</text><text class="l" x="330" y="384">CMP</text><text class="l" x="364" y="384">CoA</text><text class="l" x="396" y="384">CMP</text><text class="l" x="428" y="384">CMP</text><text class="l" x="462" y="384">CMP</text>

<text class="l" x="464" y="172">CoASH</text><text class="l" x="518" y="172">ATP</text><text class="l" x="481" y="181">脂酰CoA合酶</text><text class="l" x="528" y="179">AMP、Ppi</text>
<text class="l" x="509" y="199.5" style="font-size:5.2px">肉碱转运载体</text>
<circle cx="509" cy="205.5" r="3.2" fill="#fff" stroke="#666" stroke-width="0.7"/><text class="l" x="509" y="207.5" style="font-size:5px">C</text>
<text class="ls" x="473" y="227">脂酰CoA脱</text><text class="ls" x="473" y="234">氢酶</text><text class="l" x="522" y="227">FAD</text><text class="l" x="525" y="235">FADH2</text>
<text class="ls" x="473" y="255">Δ2烯酰CoA</text><text class="ls" x="473" y="262">水化酶</text><text class="l" x="520" y="260">H₂O</text>
<text class="ls" x="473" y="282">β-羟脂酰</text><text class="ls" x="473" y="289">CoA脱氢酶</text><text class="l" x="522" y="281">NAD</text><text class="l" x="520" y="292">NADH⁺+H⁺</text>
<text class="l" x="516" y="310">CoASH</text>
<text class="l" x="463" y="336">脱氢,加水,</text><text class="l" x="463" y="342">再脱氢,硫</text><text class="l" x="455" y="349">解</text>
<text class="l" x="552"><tspan x="552" y="269">乙</tspan><tspan x="552" y="277">酰</tspan><tspan x="552" y="285">C</tspan><tspan x="552" y="292">o</tspan><tspan x="552" y="299">A</tspan><tspan x="552" y="307">羧</tspan><tspan x="552" y="315">化</tspan><tspan x="552" y="323">酶</tspan></text>
<text class="l" x="501" y="401">乙 酰 乙 酰</text><text class="l" x="501" y="408">CoA硫解酶</text>
<text class="l" x="559" y="404">NADP</text><text class="l" x="535" y="416">CoASH</text>
<text class="l" x="517" y="431">HMGCoA</text><text class="l" x="517" y="438">合成酶</text>
<text class="l" x="541" y="444">HMGCoA</text><text class="l" x="541" y="451">还原酶</text>
<text class="l" x="517" y="457">HMGCoA</text><text class="l" x="517" y="464">裂解酶</text>
<text class="l" x="448" y="482">β-羟 基 丁</text><text class="l" x="448" y="489">酸脱氢酶</text>
<text class="l" x="479" y="495">NADH⁺+H⁺</text><text class="l" x="472" y="506">NAD</text><text class="l" x="562" y="502">CO2</text>

<text class="l" x="362" y="447">NADH+H⁺</text><text class="l" x="366" y="456">NAD⁺</text><text class="l" x="379" y="475">H₂O</text>
<text class="l" x="193" y="497">NAD</text><text class="l" x="183" y="506">NADH+H⁺</text><text class="l" x="242" y="499">异柠檬酸脱氢酶</text>
<text class="l" x="380" y="497">FADH₂</text><text class="l" x="375" y="506">FAD</text>
<text class="l" x="226" y="521">NAD</text><text class="l" x="221" y="530">NADH+H⁺</text>
<text class="l" x="259" y="522">α-酮戊二</text><text class="l" x="259" y="529">酸脱氢</text><text class="l" x="259" y="536">酶复合</text><text class="l" x="255" y="543">体</text>
<text class="l" x="364" y="521">GTP</text><text class="l" x="352" y="528">GDP</text>

<text class="l" x="70" y="534">肝</text><text class="l" x="47" y="565">H₂O</text><text class="l" x="100" y="564">H₂O</text><text class="l" x="138" y="586">NH₃</text>
<text class="l" x="28" y="650">TMP合酶</text><text class="l" x="57" y="745">还原酶</text>
<text class="l" x="102" y="743">CO₂</text><text class="l" x="92" y="759">脱羧酶</text>
<text class="l" x="164" y="770">PPi</text><text class="l" x="165" y="780">PRPP</text>
<text class="l" x="89" y="777">NAD⁺</text><text class="l" x="112" y="776">NADH+H⁺</text><text class="l" x="106" y="790">脱氢酶</text>
<text class="l" x="88" y="797.5">二氢乳</text><text class="l" x="88" y="803.5">清酸酶</text><text class="l" x="62" y="803">H₂O</text><text class="l" x="112" y="805">Pi</text>
<text class="l" x="165" y="820" style="font-size:9px;font-weight:bold;fill:#333">+</text><text class="l" x="123" y="852" style="font-size:9px;font-weight:bold;fill:#333">+</text>
<text class="l" x="130" y="833">氨基甲先磷</text><text class="l" x="130" y="840">酸合成酶II</text>
<text class="l" x="175" y="829">2ADP+Pi</text><text class="l" x="176" y="836">谷氨酸</text><text class="l" x="178" y="846">2ATP</text>

<text class="l" x="337" y="705">Pi</text><text class="l" x="278" y="737">CO2,H2O</text>
<text class="l" x="284" y="785">2ADP+2Pi</text><text class="l" x="288" y="797">2ATP</text>
<text class="l" x="516" y="668">转氨酶</text><text class="l" x="421" y="669">谷氨酸</text><text class="l" x="421" y="676">脱氢酶</text>
</g>
</svg>
